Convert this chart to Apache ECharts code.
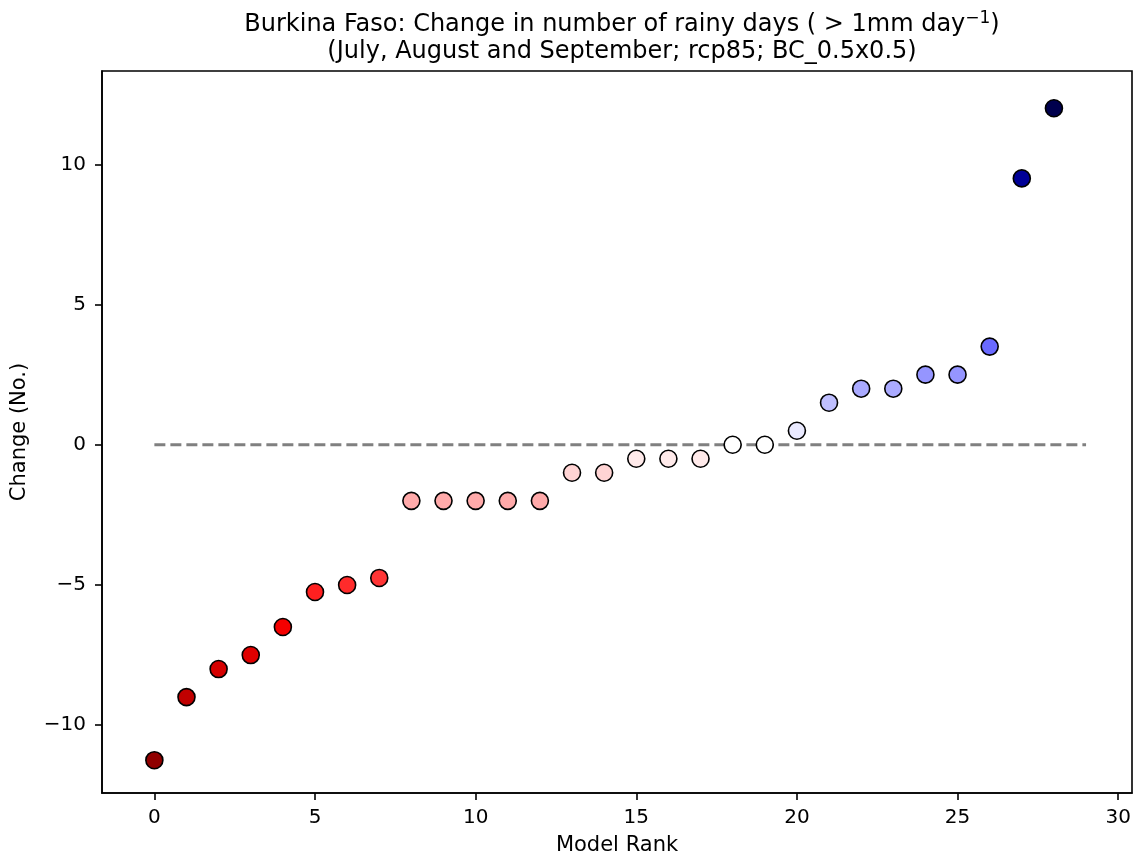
<!DOCTYPE html>
<html>
<head>
<meta charset="utf-8">
<script src="https://cdn.jsdelivr.net/npm/echarts@6/dist/echarts.min.js"></script>
<style>
html,body{margin:0;padding:0;background:#fff;}
#chart{width:1135px;height:861px;}
</style>
</head>
<body>
<div id="chart"></div>
<script>
// ---- data ----
const modelRank = [0,1,2,3,4,5,6,7,8,9,10,11,12,13,14,15,16,17,18,19,20,21,22,23,24,25,26,27,28];
const changeValues = [-11.25,-9,-8,-7.5,-6.5,-5.25,-5,-4.75,-2,-2,-2,-2,-2,-1,-1,-0.5,-0.5,-0.5,0,0,0.5,1.5,2,2,2.5,2.5,3.5,9.5,12];
const xTicks = [0,5,10,15,20,25,30];
const yTicks = [-10,-5,0,5,10];
const zeroLineX = [0,29];
const titleLine1 = 'Burkina Faso: Change in number of rainy days ( > 1mm day';
const titleSup = '\u22121';
const titleLine2 = '(July, August and September; rcp85; BC_0.5x0.5)';

const font = 'DejaVu Sans';
const chart = echarts.init(document.getElementById('chart'), null, {renderer:'canvas'});

const points = modelRank.map((r,i)=>[r, changeValues[i]]);
const titleCenterX = 617;

chart.setOption({
  animation:false,
  backgroundColor:'#ffffff',
  title:[
    {
      left:titleCenterX, top:6, textAlign:'center',
      text:'{a|'+titleLine1+'}{s|'+titleSup+'}{a|)}',
      textStyle:{
        fontWeight:'normal',
        rich:{
          a:{fontFamily:font,fontSize:24,fontWeight:'normal',color:'#000',lineHeight:28},
          s:{fontFamily:font,fontSize:17,fontWeight:'normal',color:'#000',lineHeight:28,padding:[0,0,12,0]}
        }
      }
    },
    {
      left:titleCenterX, top:33, textAlign:'center',
      text:titleLine2,
      textStyle:{fontFamily:font,fontSize:24,fontWeight:'normal',color:'#000',lineHeight:28}
    }
  ],
  grid:{left:102,right:3,top:71,bottom:66,show:true,borderColor:'#000',borderWidth:1.6,backgroundColor:'transparent'},
  visualMap:{
    type:'continuous', show:false, min:-12, max:12, dimension:1, seriesIndex:0,
    inRange:{color:['#800000','#ff0000','#ffffff','#0000ff','#00004d']}
  },
  xAxis:{
    type:'value', min:-1.63, max:30.43,
    name:'Model Rank', nameLocation:'middle', nameGap:42,
    nameTextStyle:{fontFamily:font,fontSize:21,color:'#000'},
    axisLine:{show:true,onZero:false,lineStyle:{color:'#000',width:1.6}},
    axisTick:{show:true,inside:false,length:7,lineStyle:{color:'#000',width:1.6},customValues:xTicks},
    axisLabel:{fontFamily:font,fontSize:20,color:'#000',margin:15,customValues:xTicks},
    splitLine:{show:false}
  },
  yAxis:{
    type:'value', min:-12.42, max:13.33,
    name:'Change (No.)', nameLocation:'middle', nameGap:72, nameRotate:90,
    nameTextStyle:{fontFamily:font,fontSize:21,color:'#000'},
    axisLine:{show:true,onZero:false,lineStyle:{color:'#000',width:1.6}},
    axisTick:{show:true,inside:false,length:7,lineStyle:{color:'#000',width:1.6},customValues:yTicks},
    axisLabel:{fontFamily:font,fontSize:20,color:'#000',margin:16,customValues:yTicks,
      formatter:(v)=> v<0 ? '\u2212'+Math.abs(v) : String(v)},
    splitLine:{show:false}
  },
  series:[
    {
      type:'scatter', z:5,
      data:points,
      symbol:'circle', symbolSize:17,
      itemStyle:{borderColor:'#000',borderWidth:1.6,opacity:1}
    },
    {
      type:'line', z:2,
      data:zeroLineX.map(x=>[x,0]),
      symbol:'none',
      lineStyle:{color:'#808080',width:3,type:[11,5]},
      silent:true
    }
  ]
});
</script>
</body>
</html>
